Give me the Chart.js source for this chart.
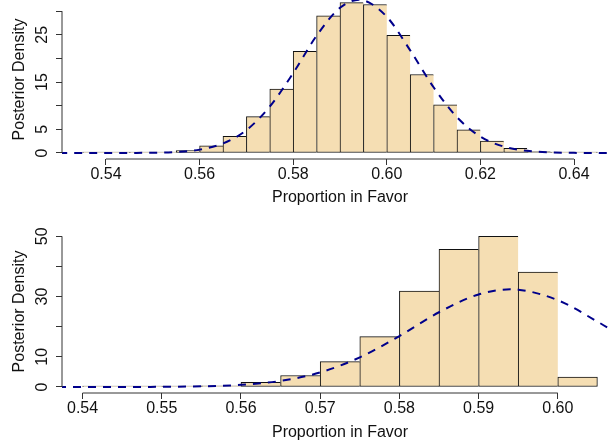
<!DOCTYPE html>
<html>
<head>
<meta charset="utf-8">
<script src="https://cdn.jsdelivr.net/npm/chart.js@4/dist/chart.umd.min.js"></script>
<style>
  html, body { margin: 0; padding: 0; background: #fff; }
  body { width: 611px; height: 443px; overflow: hidden; position: relative; }
  .panel { position: absolute; left: 0; width: 620px; }
  #top { top: 0; height: 215px; }
  #bottom { top: 215px; height: 228px; }
</style>
</head>
<body>
<div class="panel" id="top"><canvas id="topChart" width="620" height="215"></canvas></div>
<div class="panel" id="bottom"><canvas id="bottomChart" width="620" height="228"></canvas></div>

<script>
/* ---------------- DATA ---------------- */

// top histogram: bins of 0.005 from 0.535 to 0.645 (bin centres)
const topBins = [0.5375, 0.5425, 0.5475, 0.5525, 0.5575, 0.5625, 0.5675, 0.5725, 0.5775, 0.5825, 0.5875,
                 0.5925, 0.5975, 0.6025, 0.6075, 0.6125, 0.6175, 0.6225, 0.6275, 0.6325, 0.6375, 0.6425];
const topDensity = [0.02, 0.03, 0.06, 0.2, 0.5, 1.5, 3.5, 7.7, 13.5, 21.5, 29.0,
                    31.8, 31.4, 24.9, 16.6, 10.2, 4.9, 2.5, 1.0, 0.3, 0.1, 0.04];

// bottom histogram: bins of 0.005 from 0.54 to 0.605
const bottomBins = [0.5425, 0.5475, 0.5525, 0.5575, 0.5625, 0.5675, 0.5725, 0.5775, 0.5825, 0.5875, 0.5925, 0.5975, 0.6025];
const bottomDensity = [0.05, 0.1, 0.2, 0.4, 1.55, 3.8, 8.4, 16.7, 31.8, 45.7, 50.0, 38.1, 3.3];

// dashed density curve (same in both panels)
const curveX = [0.530, 0.535, 0.540, 0.545, 0.550, 0.555, 0.560, 0.565, 0.570, 0.575, 0.580, 0.585, 0.590,
                0.594, 0.595, 0.600, 0.605, 0.610, 0.615, 0.620, 0.625, 0.630, 0.635, 0.640, 0.645, 0.650];
const curveY = [0, 0.0003, 0.002, 0.012, 0.054, 0.21, 0.71, 2.01, 4.83, 9.83, 16.9, 24.8, 30.7,
                32.4, 32.3, 28.8, 21.7, 13.9, 7.55, 3.47, 1.35, 0.45, 0.125, 0.03, 0.006, 0.001];

// ticks
const topXTicks = [0.54, 0.56, 0.58, 0.60, 0.62, 0.64];
const topYTicks = [0, 5, 10, 15, 20, 25, 30];
const topYLabels = [0, 5, 15, 25];
const bottomXTicks = [0.54, 0.55, 0.56, 0.57, 0.58, 0.59, 0.60];
const bottomYTicks = [0, 10, 20, 30, 40, 50];
const bottomYLabels = [0, 10, 30, 50];

/* ---------------- STYLE ---------------- */

Chart.defaults.font.family = "'Liberation Sans', Arial, sans-serif";
Chart.defaults.font.size = 16;
Chart.defaults.color = '#111';

const AXIS_COLOR = '#333';

// R style axis line: only from first to last tick
const rAxes = {
    id: 'rAxes',
    afterDraw(chart) {
        const { ctx, chartArea, scales: { x, y } } = chart;
        const xt = x.ticks, yt = y.ticks;
        ctx.save();
        ctx.strokeStyle = AXIS_COLOR;
        ctx.lineWidth = 1;
        ctx.beginPath();
        ctx.moveTo(x.getPixelForValue(xt[0].value), Math.round(chartArea.bottom));
        ctx.lineTo(x.getPixelForValue(xt[xt.length - 1].value), Math.round(chartArea.bottom));
        ctx.moveTo(Math.round(chartArea.left), y.getPixelForValue(yt[0].value));
        ctx.lineTo(Math.round(chartArea.left), y.getPixelForValue(yt[yt.length - 1].value));
        ctx.stroke();
        ctx.restore();
    }
};

function noPad(s) {
    s.paddingTop = 0;
    s.paddingBottom = 0;
    s.paddingLeft = 0;
    s.paddingRight = 0;
}

function makeChart(canvasId, cfg) {

    const n = cfg.bins.length;

    return new Chart(document.getElementById(canvasId), {
        type: 'bar',
        data: {
            datasets: [
                {
                    type: 'line',
                    data: cfg.curveX.map((v, i) => ({ x: v, y: cfg.curveY[i] })),
                    borderColor: '#00008B',
                    borderWidth: 2,
                    borderDash: [8, 7],
                    pointRadius: 0,
                    cubicInterpolationMode: 'monotone',
                    fill: false,
                    order: 0
                },
                {
                    type: 'bar',
                    data: cfg.bins.map((v, i) => ({ x: v, y: cfg.density[i] })),
                    backgroundColor: '#F5DEB3',
                    borderColor: '#111',
                    borderWidth: c => ({ top: 1, bottom: 1, left: 1, right: c.dataIndex === n - 1 ? 1 : 0 }),
                    borderSkipped: false,
                    barPercentage: 1,
                    categoryPercentage: 1,
                    minBarLength: 1,
                    grouped: false,
                    order: 1
                }
            ]
        },
        options: {
            responsive: false,
            animation: false,
            devicePixelRatio: 1,
            layout: { padding: { top: cfg.padTop, right: 2, bottom: 0, left: 0 } },
            plugins: { legend: { display: false }, tooltip: { enabled: false } },
            scales: {
                x: {
                    type: 'linear',
                    bounds: 'data',
                    offset: false,
                    min: cfg.xMin,
                    max: cfg.xMax,
                    afterFit: s => { s.height = cfg.xHeight; noPad(s); },
                    afterBuildTicks: s => { s.ticks = cfg.xTicks.map(v => ({ value: v })); },
                    border: { display: false },
                    grid: { offset: false, drawOnChartArea: false, drawTicks: true, tickLength: 6, color: AXIS_COLOR },
                    ticks: { autoSkip: false, maxRotation: 0, padding: 0, callback: v => v.toFixed(2) },
                    title: { display: true, text: 'Proportion in Favor', padding: { top: 0, bottom: cfg.titlePad } }
                },
                y: {
                    min: cfg.yMin,
                    max: cfg.yMax,
                    afterFit: s => { s.width = 62; noPad(s); },
                    afterBuildTicks: s => { s.ticks = cfg.yTicks.map(v => ({ value: v })); },
                    border: { display: false },
                    grid: { drawOnChartArea: false, drawTicks: true, tickLength: 6, color: AXIS_COLOR },
                    ticks: {
                        autoSkip: false,
                        minRotation: 90,
                        maxRotation: 90,
                        crossAlign: 'center',
                        padding: 5,
                        callback: v => cfg.yLabels.includes(v) ? String(v) : ''
                    },
                    title: { display: true, text: 'Posterior Density', padding: { top: 10, bottom: 0 } }
                }
            }
        },
        plugins: [rAxes]
    });

}

makeChart('topChart', {
    bins: topBins, density: topDensity,
    curveX: curveX, curveY: curveY,
    xTicks: topXTicks, yTicks: topYTicks, yLabels: topYLabels,
    xMin: 0.5306, xMax: 0.6494, yMin: -1.27, yMax: 32.35,
    padTop: 0, xHeight: 56, titlePad: 7.7
});

makeChart('bottomChart', {
    bins: bottomBins, density: bottomDensity,
    curveX: curveX, curveY: curveY,
    xTicks: bottomXTicks, yTicks: bottomYTicks, yLabels: bottomYLabels,
    xMin: 0.5374, xMax: 0.6076, yMin: -2, yMax: 52.1,
    padTop: 15, xHeight: 50, titlePad: 0.7
});
</script>
</body>
</html>
